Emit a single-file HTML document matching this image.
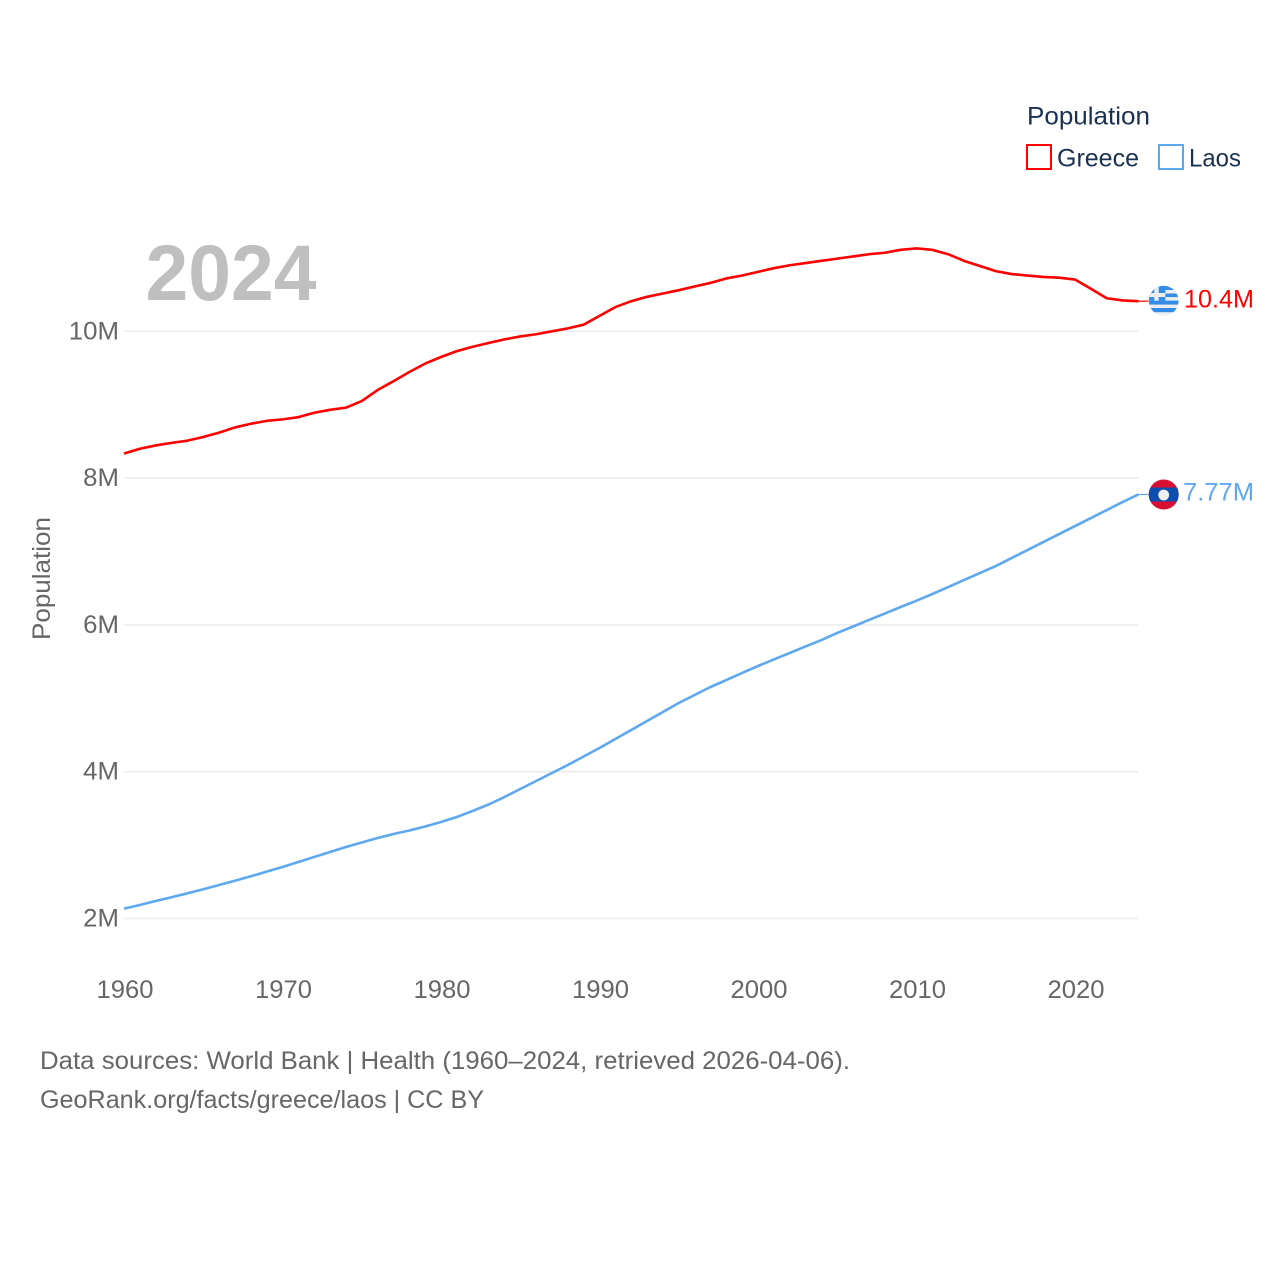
<!DOCTYPE html>
<html lang="en">
<head>
<meta charset="utf-8">
<title>Population: Greece and Laos</title>
<style>
html,body{margin:0;padding:0;background:#fff;width:1280px;height:1280px;overflow:hidden}
svg{display:block}
text{font-family:"Liberation Sans",sans-serif}
</style>
</head>
<body>
<svg id="chart" xmlns="http://www.w3.org/2000/svg" width="1280" height="1280" viewBox="0 0 1280 1280">
  <defs>
    <clipPath id="greece-clip"><circle cx="1163.7" cy="300.8" r="14.9"/></clipPath>
    <clipPath id="laos-clip"><circle cx="1163.7" cy="494.5" r="15"/></clipPath>
  </defs>
  <rect width="1280" height="1280" fill="#fff"/>
  <g id="grid"></g>
  <text x="145.5" y="300" font-size="79" font-weight="700" fill="#bfbfbf" textLength="171" lengthAdjust="spacingAndGlyphs">2024</text>
  <g id="y-axis"></g>
  <g id="x-axis"></g>
  <text transform="translate(50,640) rotate(-90)" font-size="25" fill="#666" textLength="123" lengthAdjust="spacingAndGlyphs">Population</text>
  <g id="series"></g>

  <g>
    <text x="1027" y="124.5" font-size="25" fill="#1a3050" textLength="123" lengthAdjust="spacingAndGlyphs">Population</text>
    <rect x="1027" y="145" width="24" height="24" fill="#fff" stroke="#ff0000" stroke-width="2"/>
    <text x="1057" y="166.5" font-size="25" fill="#1a3050" textLength="82" lengthAdjust="spacingAndGlyphs">Greece</text>
    <rect x="1159" y="145" width="24" height="24" fill="#fff" stroke="#5ea8f0" stroke-width="2"/>
    <text x="1189" y="166.5" font-size="25" fill="#1a3050" textLength="52" lengthAdjust="spacingAndGlyphs">Laos</text>
  </g>

  <g clip-path="url(#greece-clip)">
    <rect x="1148" y="285" width="32" height="32" fill="#eeeeee"/>
    <rect x="1148" y="285" width="32" height="5" fill="#338ce8"/>
    <rect x="1148" y="293.5" width="32" height="3.6" fill="#338ce8"/>
    <rect x="1148" y="300.6" width="32" height="4" fill="#338ce8"/>
    <rect x="1148" y="308" width="32" height="4.2" fill="#338ce8"/>
    <rect x="1148" y="285" width="17.3" height="15.6" fill="#338ce8"/>
    <rect x="1154.3" y="285" width="4.4" height="15.6" fill="#eeeeee"/>
    <rect x="1148" y="293" width="17.3" height="4" fill="#eeeeee"/>
  </g>
  <g clip-path="url(#laos-clip)">
    <rect x="1148" y="479" width="32" height="32" fill="#d80f33"/>
    <rect x="1148" y="487.5" width="32" height="14" fill="#0c4db0"/>
    <circle cx="1163.7" cy="495" r="5.4" fill="#eeeeee"/>
  </g>

  <text x="40" y="1069" font-size="25" fill="#666" textLength="810" lengthAdjust="spacingAndGlyphs">Data sources: World Bank | Health (1960–2024, retrieved 2026-04-06).</text>
  <text x="40" y="1108" font-size="25" fill="#666" textLength="444" lengthAdjust="spacingAndGlyphs">GeoRank.org/facts/greece/laos | CC BY</text>
</svg>
<script>
const years = [1960,1961,1962,1963,1964,1965,1966,1967,1968,1969,1970,1971,1972,1973,1974,1975,1976,1977,1978,1979,1980,1981,1982,1983,1984,1985,1986,1987,1988,1989,1990,1991,1992,1993,1994,1995,1996,1997,1998,1999,2000,2001,2002,2003,2004,2005,2006,2007,2008,2009,2010,2011,2012,2013,2014,2015,2016,2017,2018,2019,2020,2021,2022,2023,2024];
const greeceValues = [8.335,8.40,8.445,8.48,8.51,8.56,8.62,8.69,8.74,8.78,8.80,8.83,8.89,8.93,8.96,9.05,9.20,9.32,9.445,9.56,9.65,9.73,9.79,9.84,9.89,9.93,9.96,10.0,10.04,10.09,10.21,10.33,10.41,10.47,10.515,10.56,10.61,10.66,10.72,10.76,10.81,10.86,10.90,10.93,10.96,10.99,11.02,11.05,11.07,11.11,11.13,11.11,11.05,10.96,10.89,10.82,10.78,10.76,10.74,10.73,10.705,10.58,10.45,10.42,10.41];
const laosValues = [2.134,2.184,2.238,2.289,2.343,2.398,2.456,2.514,2.575,2.638,2.702,2.770,2.838,2.906,2.974,3.035,3.097,3.151,3.199,3.253,3.315,3.383,3.465,3.553,3.655,3.764,3.873,3.982,4.091,4.207,4.323,4.446,4.568,4.691,4.813,4.936,5.045,5.154,5.249,5.345,5.440,5.529,5.617,5.706,5.794,5.890,5.978,6.067,6.155,6.244,6.330,6.421,6.516,6.612,6.707,6.802,6.911,7.020,7.129,7.238,7.347,7.456,7.565,7.674,7.777];
const yTickValues = [2,4,6,8,10];
const yTickLabels = ["2M","4M","6M","8M","10M"];
const xTickValues = [1960,1970,1980,1990,2000,2010,2020];
const greeceEndLabel = "10.4M";
const laosEndLabel = "7.77M";

const NS = "http://www.w3.org/2000/svg";
function xScale(year){ return 124 + (year - 1960) * 15.85; }
function yScale(value){ return 918.5 - (value - 2) * 73.4; }
function make(tag, attrs, text){
  const el = document.createElementNS(NS, tag);
  for (const k in attrs) el.setAttribute(k, attrs[k]);
  if (text !== undefined) el.textContent = text;
  return el;
}

const grid = document.getElementById("grid");
const yAxis = document.getElementById("y-axis");
const xAxis = document.getElementById("x-axis");
const seriesGroup = document.getElementById("series");

yTickValues.forEach(function(v, i){
  const gl = make("line", {x1: xScale(1960), x2: xScale(2024), y1: yScale(v), y2: yScale(v), stroke: "#ebebeb", "stroke-width": 1.5});
  
  
  grid.appendChild(gl);
  const label = yTickLabels[i];
  const w = (label.length - 1) * 14.4 + 21.4;
  const t = make("text", {x: 119 - w, y: yScale(v) + 8, "font-size": 25, fill: "#666", textLength: w, lengthAdjust: "spacingAndGlyphs"}, label);
  
  
  yAxis.appendChild(t);
});

xTickValues.forEach(function(y){
  const t = make("text", {x: xScale(y) + 1, y: 998, "font-size": 25, fill: "#666", "text-anchor": "middle", textLength: 57, lengthAdjust: "spacingAndGlyphs"}, String(y));
  
  
  xAxis.appendChild(t);
});

function drawSeries(values, color, lineName, connectorName, labelName, labelText, labelLeft, labelWidth, labelShift){
  const d = values.map(function(v, i){
    return (i ? "L" : "M") + xScale(years[i]).toFixed(2) + " " + yScale(v).toFixed(2);
  }).join(" ");
  const path = make("path", {d: d, fill: "none", stroke: color, "stroke-width": 2.6, "stroke-linejoin": "round"});
  
  
  seriesGroup.appendChild(path);
  const last = values[values.length - 1];
  const endX = xScale(years[years.length - 1]);
  const endY = yScale(last);
  const conn = make("line", {x1: endX, x2: endX + 10, y1: endY, y2: endY, stroke: color, "stroke-width": 1.2});
  
  
  seriesGroup.appendChild(conn);
  const lbl = make("text", {x: labelLeft, y: endY + labelShift, "font-size": 25, fill: color, textLength: labelWidth, lengthAdjust: "spacingAndGlyphs"}, labelText);
  
  
  seriesGroup.appendChild(lbl);
}
drawSeries(greeceValues, "#ff0000", "line-greece", "connector-greece", "end-label-greece", greeceEndLabel, 1184, 70, 6.5);
drawSeries(laosValues, "#5ea8f0", "line-laos", "connector-laos", "end-label-laos", laosEndLabel, 1183, 71, 6);
</script>
</body>
</html>
